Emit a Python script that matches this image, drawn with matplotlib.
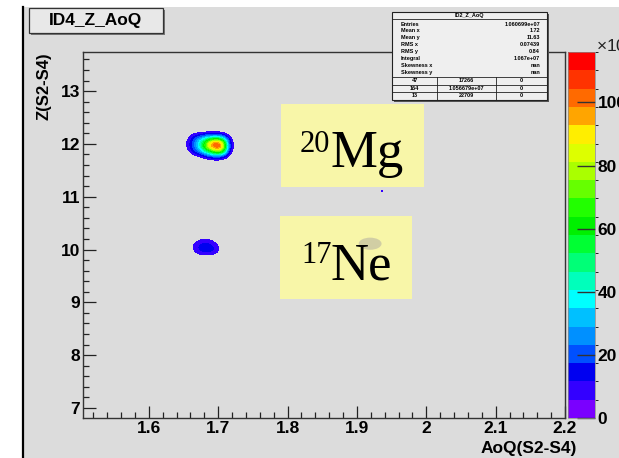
import numpy as np
import matplotlib
matplotlib.use("Agg")
import matplotlib.pyplot as plt
from matplotlib.colors import ListedColormap, BoundaryNorm, Normalize
from matplotlib.patches import Rectangle, Ellipse
from matplotlib.lines import Line2D
from matplotlib.cm import ScalarMappable
from matplotlib.ticker import MultipleLocator, FuncFormatter

W, H = 619, 458

# ---------------- histogram content (counts / 1e3) ----------------

# 20Mg spot
mg_aoq = [1.645, 1.655, 1.665, 1.675, 1.685, 1.695, 1.705, 1.715, 1.725]
mg_z = [11.65, 11.75, 11.85, 11.95, 12.05, 12.15, 12.25]
mg_counts = [
    [0, 0, 0, 0, 0, 0, 0, 0, 0],
    [0, 0, 0, 4, 11, 15, 13, 0, 0],
    [0, 2, 16, 30, 52, 76, 70, 9, 0],
    [0, 6, 25, 50, 94, 115, 108, 13, 0],
    [0, 6, 24, 45, 80, 104, 86, 11, 0],
    [0, 2, 13, 19, 25, 27, 21, 3, 0],
    [0, 0, 0, 0, 0, 0, 0, 0, 0],
]

# 17Ne spot
ne_aoq = [1.655, 1.665, 1.675, 1.685, 1.695, 1.705]
ne_z = [9.85, 9.95, 10.05, 10.15, 10.25]
ne_counts = [
    [0, 0, 0, 0, 0, 0],
    [0, 6, 14, 15, 11, 0],
    [0, 9, 16, 16, 12, 0],
    [0, 4, 10, 10, 4, 0],
    [0, 0, 0, 0, 0, 0],
]

# isolated bin
spot_aoq = [1.936]
spot_z = [11.10]
spot_counts = [9.0]

z_max = 116.0
cbar_ticks = [0, 20, 40, 60, 80, 100]
x_ticks = [1.6, 1.7, 1.8, 1.9, 2.0, 2.1, 2.2]
y_ticks = [7, 8, 9, 10, 11, 12, 13]

# stats box
stat_title = "ID2_Z_AoQ"
stat_labels = ["Entries", "Mean x", "Mean y", "RMS x", "RMS y", "Integral",
               "Skewness x", "Skewness y"]
stat_values = ["1.060699e+07", "1.72", "11.63", "0.07439", "0.84", "1.067e+07",
               "nan", "nan"]
overflow_table = [["47", "17266", "0"],
                  ["164", "1.056679e+07", "0"],
                  ["13", "22709", "0"]]

# ROOT-like rainbow palette, low -> high
palette = ["#7a00ff", "#3300ff", "#0000f0", "#0050ff", "#0090ff", "#00c0ff",
           "#00ffff", "#00ffbb", "#00ff77", "#00ff33", "#00f000", "#22ff00",
           "#66ff00", "#aaff00", "#ddff00", "#ffee00", "#ffa500", "#ff6a00",
           "#ff3300", "#ff0000"]

BG = "#dcdcdc"


def fx(x):
    return x / W


def fy(y):
    return 1 - y / H


def fig_rect(fig, x0, y0, x1, y1, **kw):
    r = Rectangle((fx(x0), fy(y1)), (x1 - x0) / W, (y1 - y0) / H,
                  transform=fig.transFigure, **kw)
    fig.add_artist(r)
    return r


def extent_of(xc, yc):
    dx = xc[1] - xc[0]
    dy = yc[1] - yc[0]
    return [xc[0] - dx / 2, xc[-1] + dx / 2, yc[0] - dy / 2, yc[-1] + dy / 2]


plt.rcParams["font.family"] = ["Liberation Sans", "DejaVu Sans"]
plt.rcParams["font.weight"] = "bold"

fig = plt.figure(figsize=(W / 100, H / 100), dpi=100, facecolor="white")

# canvas background and left border
fig_rect(fig, 23, 7, W, H, facecolor=BG, edgecolor="none", zorder=-2)
fig.add_artist(Line2D([fx(23), fx(23)], [0, fy(7)], transform=fig.transFigure,
                      color="black", lw=1.6, zorder=-1))

ax = fig.add_axes([fx(83), fy(418), (565 - 83) / W, (418 - 52) / H])
ax.set_facecolor(BG)

levels = np.linspace(0, z_max, len(palette) + 1)
img_cmap = ListedColormap(palette[1:])
img_cmap.set_under((0, 0, 0, 0))
img_cmap.set_over(palette[-1])
img_norm = Normalize(levels[1], z_max)

for xc, yc, counts in [(mg_aoq, mg_z, mg_counts), (ne_aoq, ne_z, ne_counts)]:
    ax.imshow(np.array(counts, dtype=float), origin="lower",
              extent=extent_of(xc, yc), cmap=img_cmap, norm=img_norm,
              interpolation="bicubic", interpolation_stage="data",
              aspect="auto", zorder=2)

ax.scatter(spot_aoq, spot_z, c=spot_counts, cmap=img_cmap, norm=img_norm,
           marker="s", s=3, linewidths=0, zorder=3)

ax.set_xlim(1.505, 2.2)
ax.set_ylim(6.81, 13.74)

ax.xaxis.set_minor_locator(MultipleLocator(0.02))
ax.yaxis.set_minor_locator(MultipleLocator(0.2))
ax.set_xticks(x_ticks)
ax.set_yticks(y_ticks)
ax.xaxis.set_major_formatter(FuncFormatter(lambda v, p: f"{v:g}"))
ax.tick_params(which="both", direction="in", top=False, right=False,
               color="#222222", width=0.9)
ax.tick_params(which="major", length=9, labelsize=12.5)
ax.tick_params(which="minor", length=4.5)
ax.tick_params(axis="x", which="major", pad=2.5)
ax.tick_params(axis="y", which="major", pad=2)
for sp in ax.spines.values():
    sp.set_color("#333333")
    sp.set_linewidth(1.0)

fig.text(fx(577), fy(448), "AoQ(S2-S4)", ha="right", va="center",
         fontsize=12.5, fontweight="bold")
fig.text(fx(44), fy(52), "Z(S2-S4)", ha="center", va="top", rotation=90,
         fontsize=12, fontweight="bold")

# palette axis
cax = fig.add_axes([fx(568), fy(418), (595 - 568) / W, (418 - 52) / H])
sm = ScalarMappable(norm=BoundaryNorm(levels, len(palette)),
                    cmap=ListedColormap(palette))
cb = fig.colorbar(sm, cax=cax, ticks=cbar_ticks)
cb.outline.set_linewidth(0.5)
cb.outline.set_edgecolor("#888888")
cax.tick_params(direction="in", length=13, width=1.0, color="#333333",
                labelsize=12.5, pad=2)
cax.set_ylim(0, z_max)
fig.text(fx(596), fy(45), "×10$^{3}$", ha="left", va="center",
         fontsize=12.5, fontweight="normal", color="#222222")

# title box
fig_rect(fig, 31, 10, 165, 35, facecolor="#777777", edgecolor="none", zorder=1)
fig_rect(fig, 29, 8, 163, 33, facecolor="#e8e8e8", edgecolor="#333333",
         lw=0.9, zorder=1.1)
fig.text(fx(96), fy(21), "ID4_Z_AoQ", ha="center", va="center",
         fontsize=12.5, fontweight="bold", zorder=1.2)

# stats box
sx0, sy0, sx1, sy1 = 392, 12, 547, 100
fig_rect(fig, sx0 + 2, sy0 + 2, sx1 + 2, sy1 + 2, facecolor="#555555",
         edgecolor="none", zorder=1)
fig_rect(fig, sx0, sy0, sx1, sy1, facecolor="#efefef", edgecolor="#222222",
         lw=0.8, zorder=1.1)


def hline(y, x0=sx0, x1=sx1):
    fig.add_artist(Line2D([fx(x0), fx(x1)], [fy(y), fy(y)],
                          transform=fig.transFigure, color="#222222",
                          lw=0.6, zorder=1.2))


def vline(x, y0, y1):
    fig.add_artist(Line2D([fx(x), fx(x)], [fy(y0), fy(y1)],
                          transform=fig.transFigure, color="#222222",
                          lw=0.6, zorder=1.2))


fig.text(fx((sx0 + sx1) / 2), fy(15.2), stat_title, ha="center", va="center",
         fontsize=4, zorder=1.3)
hline(18.5)
for i, (lab, val) in enumerate(zip(stat_labels, stat_values)):
    yy = 24 + i * 6.9
    fig.text(fx(401), fy(yy), lab, ha="left", va="center", fontsize=4,
             zorder=1.3)
    fig.text(fx(540), fy(yy), val, ha="right", va="center", fontsize=4,
             zorder=1.3)

col_edges = [sx0, 437, 496, sx1]
row_edges = [77, 84.5, 91.5, sy1]
for y in row_edges[:-1]:
    hline(y)
for x in col_edges[1:-1]:
    vline(x, row_edges[0], sy1)
for r, row in enumerate(overflow_table):
    yy = (row_edges[r] + row_edges[r + 1]) / 2
    for c, cell in enumerate(row):
        xx = (col_edges[c] + col_edges[c + 1]) / 2
        fig.text(fx(xx), fy(yy), cell, ha="center", va="center", fontsize=4,
                 zorder=1.3)

# isotope labels
BOX = "#f8f6a8"
fig_rect(fig, 281, 104, 424, 187, facecolor=BOX, edgecolor="none", zorder=1)
fig_rect(fig, 280, 216, 412, 299, facecolor=BOX, edgecolor="none", zorder=1)

# faint structure seen through the Ne label
fig.add_artist(Ellipse((1.919, 10.11), 0.033, 0.23, transform=ax.transData,
                       facecolor="#cbc8a4", edgecolor="none", alpha=0.85,
                       zorder=1.05))

serif = ["Liberation Serif", "DejaVu Serif"]
fig.text(fx(300), fy(152), "20", ha="left", va="baseline", fontsize=22,
         family=serif, fontweight="normal", zorder=1.3)
fig.text(fx(330), fy(167), "Mg", ha="left", va="baseline", fontsize=38,
         family=serif, fontweight="normal", zorder=1.3)
fig.text(fx(301), fy(263), "17", ha="left", va="baseline", fontsize=22,
         family=serif, fontweight="normal", zorder=1.3)
fig.text(fx(330), fy(280), "Ne", ha="left", va="baseline", fontsize=38,
         family=serif, fontweight="normal", zorder=1.3)

fig.savefig("out.png", dpi=100, facecolor=fig.get_facecolor())
